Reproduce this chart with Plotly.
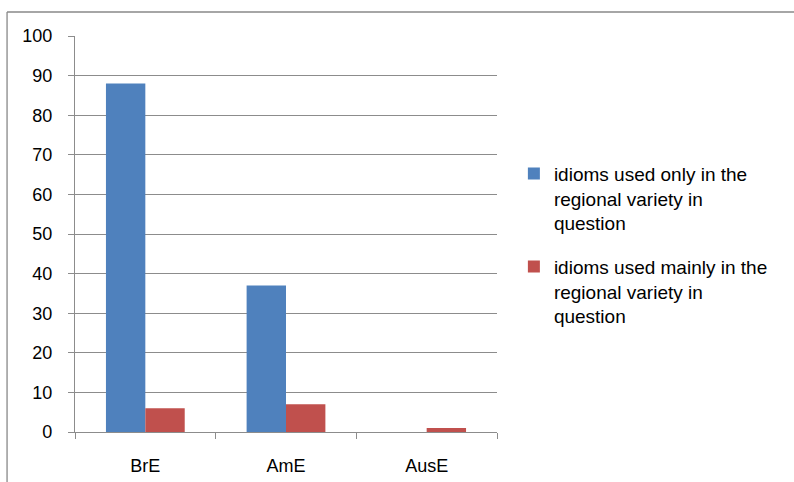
import plotly.graph_objects as go

categories = ["BrE", "AmE", "AusE"]
only_vals = [88, 37, 0]
mainly_vals = [6, 7, 1]
series_names = ["idioms used only in the<br>regional variety in<br>question",
                "idioms used mainly in the<br>regional variety in<br>question"]
y_ticks = [0, 10, 20, 30, 40, 50, 60, 70, 80, 90, 100]

FONT = "Liberation Sans"
grid = "#8c8c8c"

fig = go.Figure()
fig.add_trace(go.Bar(x=categories, y=only_vals, name=series_names[0],
                     marker=dict(color="#4F81BD", line=dict(width=0)), legendgroup="a"))
fig.add_trace(go.Bar(x=categories, y=mainly_vals, name=series_names[1],
                     marker=dict(color="#C0504D", line=dict(width=0)), legendgroup="b"))

fig.update_layout(
    width=794, height=482,
    margin=dict(l=75, r=297, t=36, b=50),
    paper_bgcolor="white", plot_bgcolor="white",
    barmode="group", bargap=0.44, bargroupgap=0,
    font=dict(family=FONT, size=18, color="black"),
    legend=dict(x=1.04, y=0.472, xanchor="left", yanchor="middle", valign="top",
                font=dict(family=FONT, size=19, color="black"),
                tracegroupgap=16, itemwidth=30, bgcolor="rgba(0,0,0,0)"),
    showlegend=True,
)
fig.update_xaxes(showline=True, linecolor=grid, linewidth=1.3, automargin=False,
                 ticks="outside", tickson="boundaries", ticklen=6, tickcolor=grid,
                 tickwidth=1.3, ticklabelstandoff=17, showgrid=False,
                 tickfont=dict(family=FONT, size=18, color="black"))
fig.update_yaxes(range=[0, 100], tickvals=y_ticks, showline=True, linecolor=grid,
                 linewidth=1.3, showgrid=True, gridcolor=grid, gridwidth=1.3,
                 ticks="outside", ticklen=6, tickcolor=grid, tickwidth=1.3,
                 zeroline=False, ticklabelstandoff=12, automargin=False,
                 tickfont=dict(family=FONT, size=18, color="black"))

# outer chart frame (left and top edges visible)
fig.add_shape(type="line", xref="paper", yref="paper", x0=-0.161, x1=-0.161,
              y0=-0.2, y1=1.0606, line=dict(color="#888888", width=1.3))
fig.add_shape(type="line", xref="paper", yref="paper", x0=-0.161, x1=1.8,
              y0=1.0606, y1=1.0606, line=dict(color="#888888", width=1.3))

fig.write_html("out.html")
